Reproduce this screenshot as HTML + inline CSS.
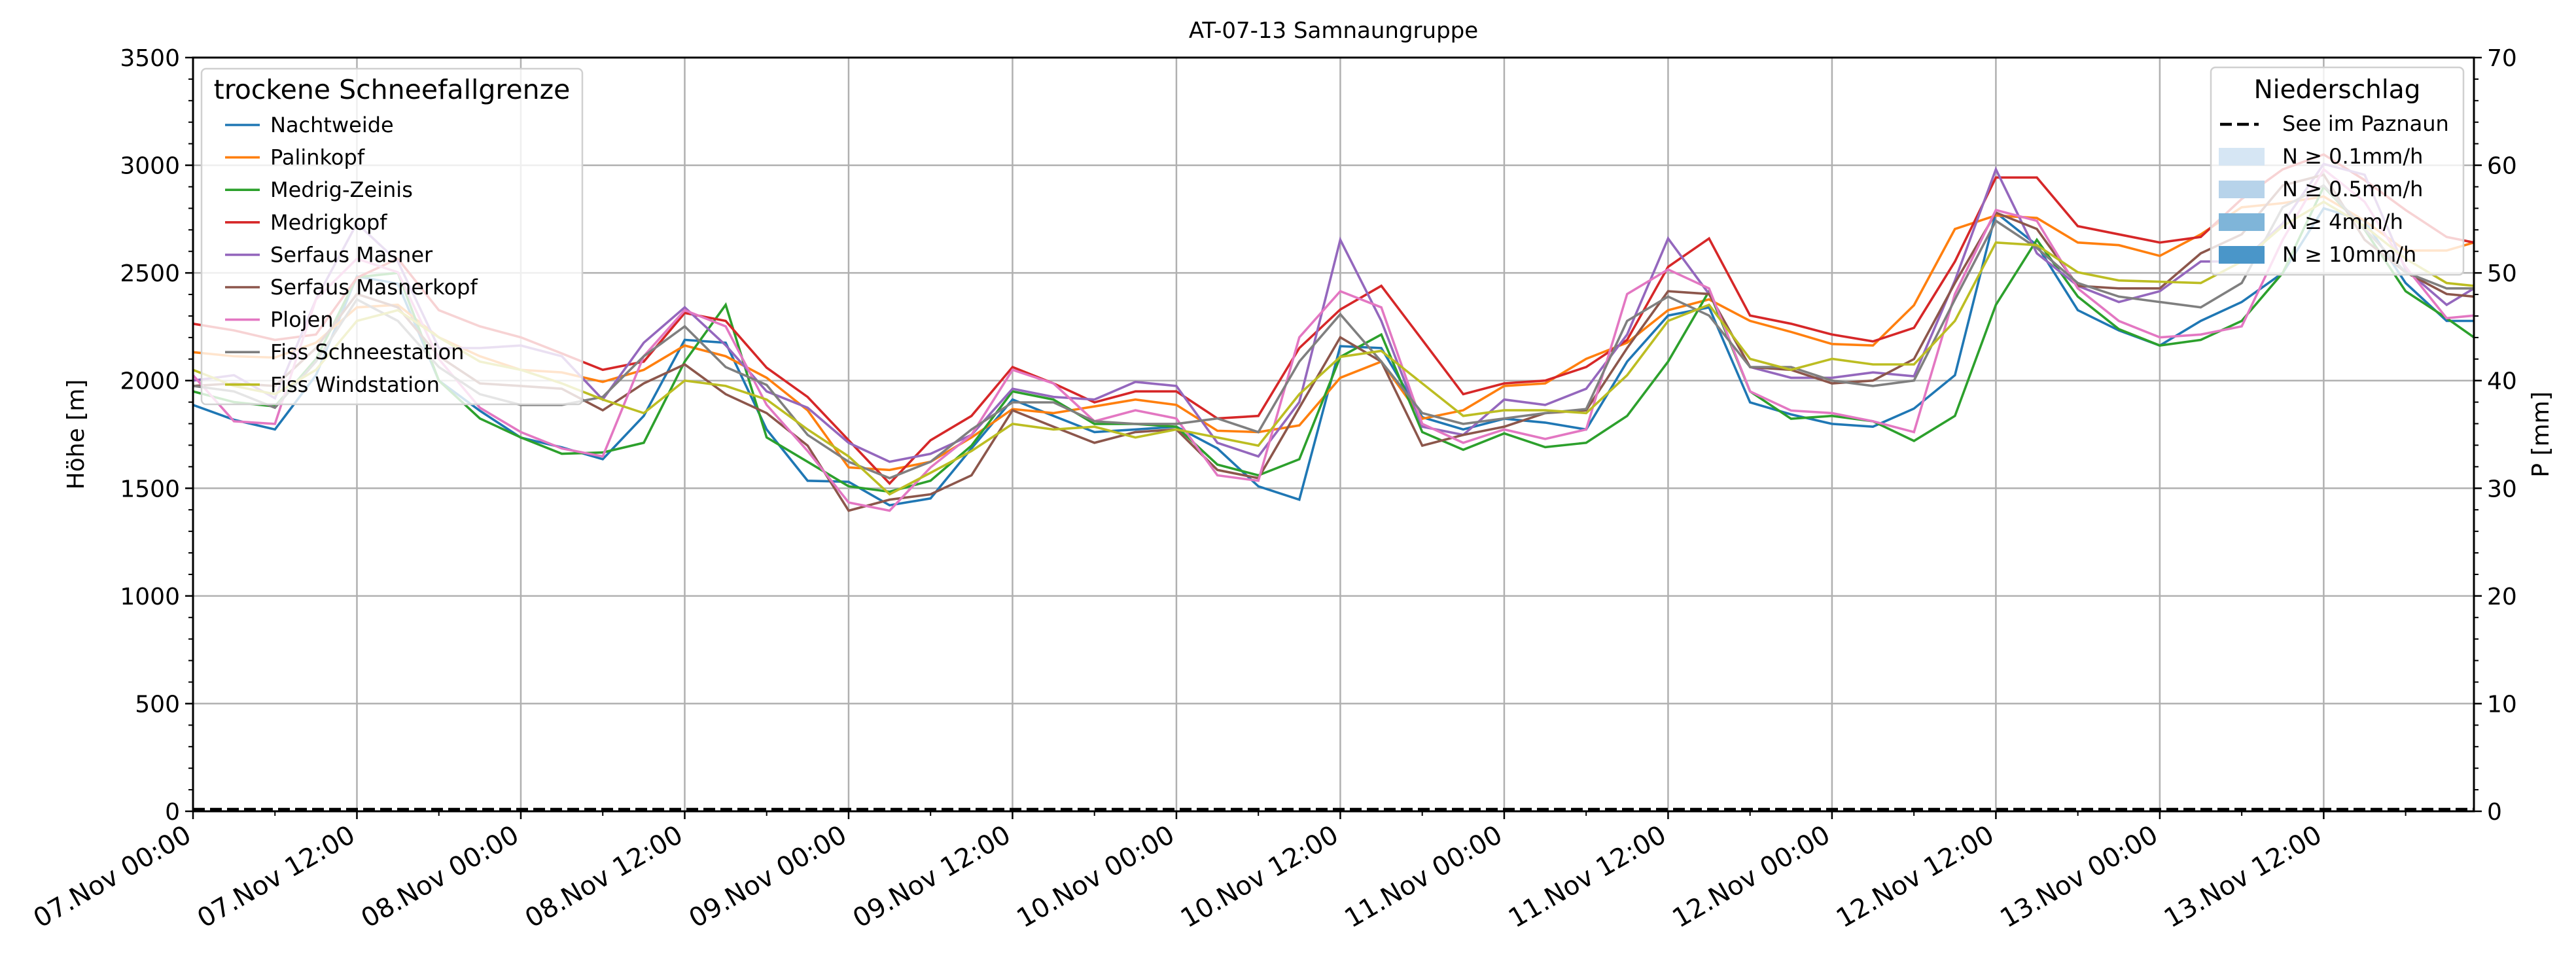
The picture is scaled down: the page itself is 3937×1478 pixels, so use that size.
<!DOCTYPE html>
<html><head><meta charset="utf-8"><style>
html,body{margin:0;padding:0;background:#fff;}
svg{display:block;font-family:"DejaVu Sans","Liberation Sans",sans-serif;}
</style></head><body>
<svg id="chart" width="3937" height="1478" viewBox="0 0 3937 1478" xmlns="http://www.w3.org/2000/svg">
<rect x="0" y="0" width="3937" height="1478" fill="#fff"/>
<text x="2038" y="58" font-size="34" text-anchor="middle">AT-07-13 Samnaungruppe</text>
<g id="grid"></g>
<g id="series"></g>
<g id="axes"></g>
<text transform="translate(128,664) rotate(-90)" font-size="36" text-anchor="middle">Höhe [m]</text>
<text transform="translate(3895,664) rotate(-90)" font-size="36" text-anchor="middle">P [mm]</text>
<g id="legend1"></g>
<g id="legend2"></g>
</svg>
<script>
const hours=[0,3,6,9,12,15,18,21,24,27,30,33,36,39,42,45,48,51,54,57,60,63,66,69,72,75,78,81,84,87,90,93,96,99,102,105,108,111,114,117,120,123,126,129,132,135,138,141,144,147,150,153,156,159,162,165,167];
const seriesNames=["Nachtweide","Palinkopf","Medrig-Zeinis","Medrigkopf","Serfaus Masner","Serfaus Masnerkopf","Plojen","Fiss Schneestation","Fiss Windstation"];
const nachtweide=[1887,1818,1773,2025,2484,2450,2000,1860,1735,1690,1635,1836,2189,2176,1773,1535,1530,1421,1453,1685,1912,1836,1761,1773,1786,1685,1509,1447,2160,2151,1830,1773,1823,1805,1773,2088,2302,2340,1899,1843,1799,1786,1870,2025,2780,2629,2327,2233,2163,2277,2365,2500,2800,2742,2453,2277,2277];
const palinkopf=[2132,2113,2107,2176,2340,2352,2201,2113,2050,2038,1994,2050,2163,2113,2013,1862,1597,1585,1623,1736,1868,1849,1880,1912,1887,1767,1761,1792,2013,2088,1823,1862,1975,1987,2101,2176,2327,2377,2277,2226,2170,2163,2350,2704,2767,2755,2641,2629,2579,2679,2805,2824,2855,2742,2604,2604,2641];
const medrigZeinis=[1950,1900,1880,2100,2480,2500,2000,1824,1736,1660,1666,1711,2088,2352,1736,1623,1509,1484,1535,1698,1950,1912,1799,1799,1786,1610,1560,1635,2110,2214,1761,1679,1755,1691,1711,1836,2088,2415,1950,1823,1836,1811,1720,1836,2352,2654,2390,2239,2163,2189,2277,2500,2900,2700,2415,2290,2201];
const medrigkopf=[2264,2233,2189,2214,2478,2566,2327,2252,2201,2126,2050,2088,2314,2277,2060,1924,1723,1522,1723,1836,2063,1987,1899,1950,1950,1824,1836,2151,2330,2440,2189,1937,1987,2000,2063,2189,2528,2660,2302,2264,2214,2182,2245,2553,2943,2943,2717,2679,2641,2667,2843,2981,3050,2931,2792,2667,2641];
const serfausMasner=[2000,2025,1918,2377,2730,2553,2151,2151,2163,2113,1912,2176,2340,2164,1950,1874,1711,1623,1660,1748,1962,1924,1912,1994,1975,1711,1648,1900,2654,2277,1786,1748,1912,1887,1962,2214,2660,2402,2063,2013,2013,2038,2020,2465,2981,2591,2440,2365,2415,2553,2553,2730,3006,2956,2516,2352,2428];
const serfausMasnerkopf=[1975,1987,1975,2151,2402,2340,2113,1987,1975,1962,1862,1987,2075,1937,1849,1698,1396,1447,1472,1560,1862,1786,1711,1761,1773,1585,1547,1874,2201,2088,1698,1748,1786,1849,1862,2151,2415,2402,2063,2050,1987,2000,2100,2453,2780,2704,2440,2428,2428,2591,2679,2906,2956,2654,2503,2402,2390];
const plojen=[2025,1811,1799,2377,2566,2503,2100,1874,1761,1685,1648,2113,2327,2252,1887,1673,1434,1396,1597,1748,2050,1987,1811,1862,1824,1560,1535,2201,2415,2340,1799,1711,1773,1729,1773,2402,2516,2428,1950,1861,1849,1811,1761,2402,2792,2742,2428,2277,2201,2214,2252,2654,2981,2830,2528,2290,2302];
const fissSchnee=[1975,1950,1874,2088,2377,2277,2063,1937,1887,1887,1924,2113,2252,2063,1980,1748,1623,1547,1623,1773,1899,1899,1811,1799,1799,1824,1761,2088,2308,2088,1849,1799,1824,1849,1868,2277,2390,2302,2063,2063,2000,1975,2000,2377,2742,2616,2453,2390,2365,2340,2453,2805,2906,2704,2503,2428,2428];
const fissWind=[2050,1975,1937,2050,2277,2327,2201,2088,2050,1987,1912,1849,2000,1975,1912,1773,1648,1472,1572,1673,1799,1773,1786,1736,1773,1736,1698,1937,2110,2138,1987,1836,1862,1862,1849,2025,2277,2352,2101,2050,2101,2075,2075,2277,2641,2629,2503,2465,2459,2453,2553,2717,2830,2717,2566,2453,2440];
const precipSee=[0,0,0,0,0,0,0,0,0,0,0,0,0,0,0,0,0,0,0,0,0,0,0,0,0,0,0,0,0,0,0,0,0,0,0,0,0,0,0,0,0,0,0,0,0,0,0,0,0,0,0,0,0,0,0,0,0];
const yTicks=[0,500,1000,1500,2000,2500,3000,3500];
const y2Ticks=[0,10,20,30,40,50,60,70];
const xTickHours=[0,12,24,36,48,60,72,84,96,108,120,132,144,156];
const xTickLabels=["07.Nov 00:00","07.Nov 12:00","08.Nov 00:00","08.Nov 12:00","09.Nov 00:00","09.Nov 12:00","10.Nov 00:00","10.Nov 12:00","11.Nov 00:00","11.Nov 12:00","12.Nov 00:00","12.Nov 12:00","13.Nov 00:00","13.Nov 12:00"];

const colors=["#1f77b4","#ff7f0e","#2ca02c","#d62728","#9467bd","#8c564b","#e377c2","#7f7f7f","#bcbd22"];
const allSeries=[nachtweide,palinkopf,medrigZeinis,medrigkopf,serfausMasner,serfausMasnerkopf,plojen,fissSchnee,fissWind];
const L=295,R=3781,T=88,B=1240,XMAX=167,YMAX=3500,Y2MAX=70;
const NS="http://www.w3.org/2000/svg";
function xs(h){return L+h*(R-L)/XMAX;}
function ys(v){return B-v*(B-T)/YMAX;}
function y2s(v){return B-v*(B-T)/Y2MAX;}
function mk(tag,attrs,parent){const e=document.createElementNS(NS,tag);for(const k in attrs)e.setAttribute(k,attrs[k]);parent.appendChild(e);return e;}

const grid=document.getElementById('grid');
xTickHours.forEach(h=>{if(h===0)return;const l=mk('line',{x1:xs(h),x2:xs(h),y1:T,y2:B,stroke:'#b0b0b0','stroke-width':2.5},grid);

});
yTicks.forEach(v=>{if(v===0||v===YMAX)return;const l=mk('line',{x1:L,x2:R,y1:ys(v),y2:ys(v),stroke:'#b0b0b0','stroke-width':2.5},grid);

});

const sg=document.getElementById('series');
allSeries.forEach((s,i)=>{
 const pts=s.map((v,j)=>xs(hours[j]).toFixed(1)+','+ys(v).toFixed(1)).join(' ');
 const p=mk('polyline',{points:pts,fill:'none',stroke:colors[i],'stroke-width':3.6,'stroke-linejoin':'miter'},sg);
 
 
});
const pp=precipSee.map((v,j)=>xs(hours[j]).toFixed(1)+','+(y2s(v)-3).toFixed(1)).join(' ');
const dl=mk('polyline',{points:pp,fill:'none',stroke:'#000','stroke-width':4.5,'stroke-dasharray':'18,8'},sg);



const ax=document.getElementById('axes');
const frame=mk('rect',{x:L,y:T,width:R-L,height:B-T,fill:'none',stroke:'#000','stroke-width':3},ax);


for(let v=0;v<=YMAX;v+=100){const major=v%500===0;mk('line',{x1:L,x2:L-(major?12:7),y1:ys(v),y2:ys(v),stroke:'#000','stroke-width':major?2.5:2},ax);}
yTicks.forEach(v=>{const t=mk('text',{x:L-20,y:ys(v)+13,'font-size':36,'text-anchor':'end'},ax);t.textContent=v;

});
for(let v=0;v<=Y2MAX;v+=2){const major=v%10===0;mk('line',{x1:R,x2:R+(major?12:7),y1:y2s(v),y2:y2s(v),stroke:'#000','stroke-width':major?2.5:2},ax);}
y2Ticks.forEach(v=>{const t=mk('text',{x:R+20,y:y2s(v)+13,'font-size':36,'text-anchor':'start'},ax);t.textContent=v;

});
for(let h=0;h<=XMAX;h+=6){const major=h%12===0;mk('line',{x1:xs(h),x2:xs(h),y1:B,y2:B+(major?12:7),stroke:'#000','stroke-width':major?2.5:2},ax);}
xTickHours.forEach((h,i)=>{const x=xs(h),y=1284;const t=mk('text',{x:x,y:y,'font-size':40,'text-anchor':'end',transform:`rotate(-30 ${x} ${y})`},ax);t.textContent=xTickLabels[i];

});

const l1=document.getElementById('legend1');
const b1=mk('rect',{x:308,y:105,width:582,height:513,rx:7,fill:'rgba(255,255,255,0.8)',stroke:'#d0d0d0','stroke-width':2.5},l1);


const t1=mk('text',{x:599,y:151,'font-size':41,'text-anchor':'middle'},l1);t1.textContent='trockene Schneefallgrenze';


seriesNames.forEach((n,i)=>{const y=191+i*49.6;
 const ln=mk('line',{x1:344,x2:397,y1:y,y2:y,stroke:colors[i],'stroke-width':3.6},l1);
 
 
 const tx=mk('text',{x:413,y:y+11,'font-size':32},l1);tx.textContent=n;
 
 });

const l2=document.getElementById('legend2');
const b2=mk('rect',{x:3379,y:103,width:386,height:317,rx:7,fill:'rgba(255,255,255,0.8)',stroke:'#d0d0d0','stroke-width':2.5},l2);


const t2=mk('text',{x:3572,y:150,'font-size':39,'text-anchor':'middle'},l2);t2.textContent='Niederschlag';


const dl2=mk('line',{x1:3393,x2:3452,y1:190,y2:190,stroke:'#000','stroke-width':4.5,'stroke-dasharray':'18,8'},l2);


const st=mk('text',{x:3488,y:200,'font-size':32},l2);st.textContent='See im Paznaun';


const pLabels=['N ≥ 0.1mm/h','N ≥ 0.5mm/h','N ≥ 4mm/h','N ≥ 10mm/h'];
const pCols=['#d6e6f4','#b7d3ea','#7fb5d9','#4a96c9'];
pLabels.forEach((n,i)=>{const y=239+i*50;
 const r=mk('rect',{x:3391,y:y-13,width:70,height:27,fill:pCols[i]},l2);
 
 
 const tx=mk('text',{x:3488,y:y+11,'font-size':32},l2);tx.textContent=n;
 
 });
</script>
</body></html>
